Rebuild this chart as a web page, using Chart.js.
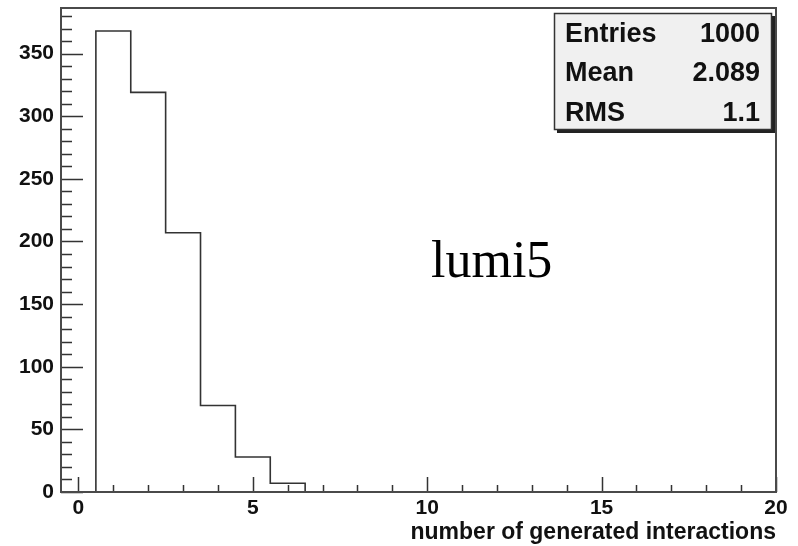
<!DOCTYPE html>
<html>
<head>
<meta charset="utf-8">
<script src="https://cdn.jsdelivr.net/npm/chart.js@4/dist/chart.umd.min.js"></script>
<style>
  html, body { margin: 0; padding: 0; background: #ffffff; }
  #wrap { width: 798px; height: 546px; position: relative; }
</style>
</head>
<body>
<div id="wrap"><canvas id="c"></canvas></div>
<script>
// Histogram of generated interactions (bin width 1)
const binCenters = [1, 2, 3, 4, 5, 6];
const binCounts = [368, 319, 207, 69, 28, 7];
const binWidth = 1;

// Axis ticks and labels
const xTickValues = [0, 5, 10, 15, 20];
const yTickValues = [0, 50, 100, 150, 200, 250, 300, 350];
const xAxisTitle = 'number of generated interactions';

// Statistics box
const statNames = ['Entries', 'Mean', 'RMS'];
const statValues = ['1000', '2.089', '1.1'];
const histName = 'lumi5';

// Step outline of the histogram built from the bins
const outline = [];
binCenters.forEach((c, i) => {
  const lo = c - binWidth / 2, hi = c + binWidth / 2;
  if (i === 0) outline.push({ x: lo, y: 0 });
  outline.push({ x: lo, y: binCounts[i] });
  outline.push({ x: hi, y: binCounts[i] });
  if (i === binCenters.length - 1) outline.push({ x: hi, y: 0 });
});

const yMax = Math.max(...binCounts) * 1.05;

const frameColor = '#4a4a4a';
const tickColor = '#333333';
const sansBold = '"Liberation Sans", Arial, sans-serif';

const framePlugin = {
  id: 'frameAndTicks',
  afterDatasetsDraw(chart) {
    const { ctx, chartArea: a, scales } = chart;
    const xs = scales.x, ys = scales.y;
    ctx.save();
    // inward tick marks
    ctx.strokeStyle = tickColor;
    ctx.lineWidth = 1.5;
    ctx.beginPath();
    for (let v = 0; v <= ys.max; v += 10) {
      const py = Math.round(ys.getPixelForValue(v)) + 0.5;
      const len = (v % 50 === 0) ? 22 : 11;
      ctx.moveTo(a.left, py);
      ctx.lineTo(a.left + len, py);
    }
    for (let v = 0; v <= 20; v += 1) {
      const px = Math.round(xs.getPixelForValue(v)) + 0.5;
      const len = (v % 5 === 0) ? 15 : 7;
      ctx.moveTo(px, a.bottom);
      ctx.lineTo(px, a.bottom - len);
    }
    ctx.stroke();
    // frame
    ctx.strokeStyle = frameColor;
    ctx.lineWidth = 2;
    ctx.strokeRect(a.left, a.top, a.right - a.left, a.bottom - a.top);
    ctx.restore();
  },
  afterDraw(chart) {
    const { ctx } = chart;
    ctx.save();
    // statistics box with shadow
    const bx = 554, by = 13, bw = 218, bh = 117;
    ctx.fillStyle = '#222222';
    ctx.fillRect(bx + 3, by + 3, bw, bh);
    ctx.fillStyle = '#f0f0f0';
    ctx.fillRect(bx, by, bw, bh);
    ctx.strokeStyle = '#333333';
    ctx.lineWidth = 1.5;
    ctx.strokeRect(bx + 0.5, by + 0.5, bw - 1, bh - 1);
    ctx.fillStyle = '#111111';
    ctx.font = 'bold 27px ' + sansBold;
    ctx.textBaseline = 'middle';
    const rowY = [35, 74, 114];
    statNames.forEach((n, i) => {
      ctx.textAlign = 'left';
      ctx.fillText(n, bx + 11, rowY[i]);
      ctx.textAlign = 'right';
      ctx.fillText(statValues[i], bx + bw - 12, rowY[i]);
    });
    // histogram name
    ctx.fillStyle = '#000000';
    ctx.font = '52px "Liberation Serif", "Times New Roman", serif';
    ctx.textAlign = 'left';
    ctx.textBaseline = 'alphabetic';
    ctx.fillText(histName, 431, 277);
    ctx.restore();
  }
};

new Chart(document.getElementById('c'), {
  type: 'line',
  data: {
    datasets: [{
      data: outline,
      borderColor: '#333333',
      borderWidth: 1.6,
      pointRadius: 0,
      tension: 0,
      fill: false
    }]
  },
  options: {
    responsive: true,
    maintainAspectRatio: false,
    animation: false,
    events: [],
    layout: { padding: { left: 0, top: 8, right: 22, bottom: 0 } },
    plugins: { legend: { display: false }, tooltip: { enabled: false } },
    scales: {
      x: {
        type: 'linear',
        min: -0.5,
        max: 20,
        grid: { display: false, drawTicks: false },
        border: { display: false },
        afterBuildTicks(s) { s.ticks = xTickValues.map(v => ({ value: v })); },
        afterFit(s) { s.height = 54; s.paddingLeft = 0; s.paddingRight = 0; },
        ticks: {
          padding: 4,
          color: '#111111',
          font: { family: sansBold, size: 21, weight: 'bold' },
          maxRotation: 0,
          autoSkip: false
        },
        title: {
          display: true,
          text: xAxisTitle,
          align: 'end',
          color: '#111111',
          padding: { top: 0, bottom: 0 },
          font: { family: sansBold, size: 23, weight: 'bold' }
        }
      },
      y: {
        type: 'linear',
        min: 0,
        max: yMax,
        grid: { display: false, drawTicks: false },
        border: { display: false },
        afterBuildTicks(s) { s.ticks = yTickValues.map(v => ({ value: v })); },
        afterFit(s) { s.width = 61; s.paddingTop = 0; s.paddingBottom = 0; },
        ticks: {
          padding: 7,
          color: '#111111',
          font: { family: sansBold, size: 21, weight: 'bold' },
          autoSkip: false
        }
      }
    }
  },
  plugins: [framePlugin]
});
</script>
</body>
</html>
